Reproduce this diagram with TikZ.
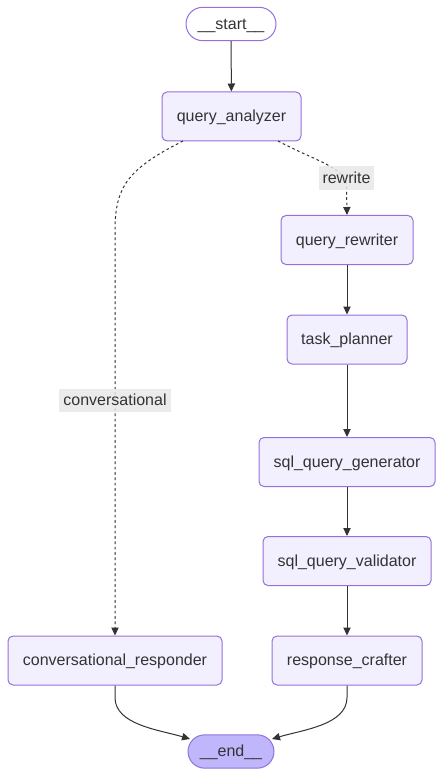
\documentclass[tikz,border=0pt]{standalone}
\usepackage{fontspec}
\setmainfont{Liberation Sans}
\usetikzlibrary{arrows.meta,shapes.misc}
\definecolor{nodefill}{HTML}{F2F0FF}
\definecolor{nodeborder}{HTML}{9370DB}
\definecolor{endfill}{HTML}{BFB6FC}
\definecolor{txt}{HTML}{333333}
\definecolor{lblbg}{HTML}{E8E8E8}
\tikzset{
  txtstyle/.style={text=txt, font=\fontsize{12}{14}\selectfont, text height=9.6pt, text depth=1.8pt},
  box/.style={draw=nodeborder, fill=nodefill, line width=0.75pt, rounded corners=3.75pt,
    minimum width={#1*0.75pt}, minimum height=36.75pt, inner sep=0pt, txtstyle},
  term/.style={draw=nodeborder, line width=0.75pt, rounded rectangle,
    minimum width={#1*0.75pt}, minimum height=25pt, inner sep=0pt, txtstyle},
  lbl/.style={fill=lblbg, fill opacity=0.85, text opacity=1, inner sep=0pt,
    minimum height=17.5pt, txtstyle},
  edge/.style={draw=txt, line width=0.75pt, -{Triangle[length=6pt,width=5.5pt]}},
  dotedge/.style={edge, dash pattern=on 2pt off 2pt}
}
\begin{document}
\begin{tikzpicture}[x=0.75pt,y=-0.75pt]
\useasboundingbox (0,0) rectangle (444,777);
\node[term=90, fill=white] (start) at (231,24) {\_\_start\_\_};
\node[box=139] (qa) at (231.5,116.5) {query\_analyzer};
\node[box=132] (qr) at (347,240) {query\_rewriter};
\node[box=120] (tp) at (347,339.5) {task\_planner};
\node[box=176] (sg) at (347,462) {sql\_query\_generator};
\node[box=168] (sv) at (347,561) {sql\_query\_validator};
\node[box=150] (rc) at (347,660.5) {response\_crafter};
\node[box=214] (cr) at (115,660.5) {conversational\_responder};
\node[term=86, fill=endfill] (end) at (231,751.5) {\_\_end\_\_};

\coordinate (qaL) at (183,141);
\coordinate (qaR) at (278,141);
\coordinate (endL) at (190,739);
\coordinate (endR) at (272,739);

\draw[edge] (start) -- (qa);
\draw[dotedge] (qaR) .. controls (318,162) and (346,168) .. (346.5,186) -- (qr.north);
\draw[dotedge] (qaL) .. controls (130,168) and (115,185) .. (115,230) -- (cr.north);
\draw[edge] (qr) -- (tp);
\draw[edge] (tp) -- (sg);
\draw[edge] (sg) -- (sv);
\draw[edge] (sv) -- (rc);
\draw[edge] (cr.south) -- ++(0,12) .. controls (115,725) and (160,730) .. (endL);
\draw[edge] (rc.south) -- ++(0,12) .. controls (347,725) and (302,730) .. (endR);

\node[lbl, minimum width=41.25pt] (lrw) at (346.5,178) {rewrite};
\node[lbl, minimum width=84pt] (lcv) at (115,400.5) {conversational};
\end{tikzpicture}
\end{document}
